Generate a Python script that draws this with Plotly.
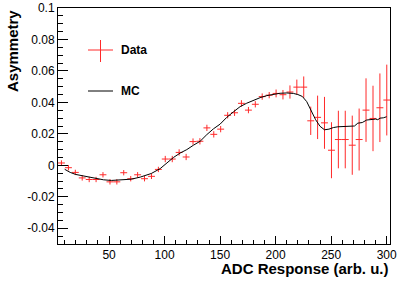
import plotly.graph_objects as go

# ---- data ----
x_data = [7.1, 13.4, 19.6, 25.8, 32.1, 38.3, 44.5, 50.8, 57.0, 63.2, 69.5, 75.7,
          81.9, 88.2, 94.4, 100.6, 106.9, 113.1, 119.4, 125.6, 131.8, 138.1, 144.3, 150.5,
          156.8, 163.0, 169.2, 175.5, 181.7, 187.9, 194.2, 200.4, 206.6, 212.9, 219.1, 225.3,
          231.6, 237.8, 244.0, 250.3, 256.5, 262.7, 269.0, 275.2, 281.4, 287.7, 293.9, 300.1]
y_data = [0.0015, -0.0015, -0.0045, -0.008, -0.009, -0.009, -0.006, -0.0105, -0.0105, -0.0047,
          -0.0085, -0.006, -0.0085, -0.007, -0.0026, 0.004, 0.004, 0.0082, 0.0053, 0.0151,
          0.0153, 0.0238, 0.0197, 0.023, 0.0318, 0.0334, 0.0394, 0.0351, 0.0388, 0.0437,
          0.0446, 0.0457, 0.0449, 0.0466, 0.0497, 0.0497, 0.0283, 0.0305, 0.027, 0.0096,
          0.0164, 0.0164, 0.0128, 0.0164, 0.0351, 0.0298, 0.0366, 0.0415]
y_err = [0.0017] * 15 + [0.002] * 16 + [0.0025, 0.003, 0.0042, 0.0048, 0.0068, 0.009, 0.0138,
          0.0165, 0.0178, 0.0183, 0.0183, 0.0188, 0.0197, 0.0202, 0.0208, 0.0218, 0.0225]
x_halfwidth = [3.11] * len(x_data)

x_mc = [10, 15, 20, 27, 35, 45, 52, 60, 70, 78, 88, 96, 102, 108, 114, 120, 126, 132, 138,
        144, 150, 156, 162, 168, 174, 180, 186, 192, 198, 204, 210, 216, 220, 224, 228, 232,
        236, 240, 244, 248, 252, 256, 260, 264, 268, 271, 274, 278, 282, 286, 290, 292, 294,
        297, 300]
y_mc = [-0.0025, -0.0045, -0.0058, -0.0068, -0.0082, -0.0092, -0.0096, -0.0094, -0.0088,
        -0.0075, -0.0052, -0.0021, 0.0017, 0.0050, 0.0078, 0.0100, 0.0128, 0.0153, 0.0195,
        0.0232, 0.0262, 0.0305, 0.0340, 0.0373, 0.0395, 0.0415, 0.0430, 0.0443, 0.0452,
        0.0458, 0.0460, 0.0457, 0.0450, 0.0438, 0.0405, 0.0345, 0.0290, 0.0248, 0.0226,
        0.0230, 0.0240, 0.0245, 0.0246, 0.0248, 0.0247, 0.0250, 0.0268, 0.0272, 0.0288,
        0.0290, 0.0294, 0.0290, 0.0300, 0.0302, 0.0309]

y_tickvals = [-0.04, -0.02, 0, 0.02, 0.04, 0.06, 0.08, 0.1]
y_ticktext = ["-0.04", "-0.02", "0", "0.02", "0.04", "0.06", "0.08", "0.1"]
x_tickvals = [50, 100, 150, 200, 250, 300]
x_ticktext = ["50", "100", "150", "200", "250", "300"]

RED = "#ff2a2a"
FONT = "Liberation Sans"

fig = go.Figure()
fig.add_trace(go.Scatter(
    x=x_data, y=y_data, mode="markers", name="Data",
    marker=dict(size=1, color=RED, opacity=0),
    error_y=dict(type="data", array=y_err, color=RED, thickness=1, width=0),
    error_x=dict(type="data", array=x_halfwidth, color=RED, thickness=1, width=0),
    showlegend=False,
))
fig.add_trace(go.Scatter(
    x=x_mc, y=y_mc, mode="lines", name="MC",
    line=dict(color="black", width=1), showlegend=False,
))

W, H = 415, 281
L, R, T, B = 58, 25, 8, 37
pw, ph = W - L - R, H - T - B

def px(xp):
    return (xp - L) / pw

def py(yp):
    return (H - B - yp) / ph

# custom legend (ROOT style)
fig.add_shape(type="line", xref="paper", yref="paper", x0=px(88), x1=px(113), y0=py(50), y1=py(50),
              line=dict(color=RED, width=1))
fig.add_shape(type="line", xref="paper", yref="paper", x0=px(100.5), x1=px(100.5), y0=py(40), y1=py(62),
              line=dict(color=RED, width=1))
fig.add_shape(type="line", xref="paper", yref="paper", x0=px(88), x1=px(113), y0=py(91), y1=py(91),
              line=dict(color="black", width=1))
fig.add_annotation(xref="paper", yref="paper", x=px(119), y=py(50), text="<b>Data</b>",
                   showarrow=False, xanchor="left", yanchor="middle",
                   font=dict(family=FONT, size=12, color="black"))
fig.add_annotation(xref="paper", yref="paper", x=px(119), y=py(91), text="<b>MC</b>",
                   showarrow=False, xanchor="left", yanchor="middle",
                   font=dict(family=FONT, size=12, color="black"))

# axis titles (ROOT aligns them to axis end)
fig.add_annotation(xref="paper", yref="paper", x=px(12), y=py(8), text="<b>Asymmetry</b>",
                   textangle=-90, showarrow=False, xanchor="center", yanchor="top",
                   font=dict(family=FONT, size=15, color="black"))
fig.add_annotation(xref="paper", yref="paper", x=px(391), y=py(268), text="<b>ADC Response (arb. u.)</b>",
                   showarrow=False, xanchor="right", yanchor="middle",
                   font=dict(family=FONT, size=15, color="black"))

axis_common = dict(showline=True, linecolor="black", linewidth=1, mirror=True, automargin=False,
                   showgrid=False, zeroline=False, ticks="inside", tickcolor="black",
                   tickwidth=1, tickfont=dict(family=FONT, size=12, color="black"))

fig.update_xaxes(range=[4, 303], tickmode="array", tickvals=x_tickvals, ticktext=x_ticktext,
                 ticklen=8, minor=dict(ticks="inside", dtick=10, tick0=0, ticklen=4,
                                       tickcolor="black", tickwidth=1),
                 **axis_common)
fig.update_yaxes(range=[-0.05, 0.1], tickmode="array", tickvals=y_tickvals, ticktext=y_ticktext,
                 ticklen=10, minor=dict(ticks="inside", dtick=0.005, tick0=0, ticklen=5,
                                        tickcolor="black", tickwidth=1),
                 **axis_common)
fig.update_xaxes(tickprefix="<b>", ticksuffix="</b>")
fig.update_yaxes(tickprefix="<b>", ticksuffix="</b>")

fig.update_layout(width=W, height=H, margin=dict(l=L, r=R, t=T, b=B, autoexpand=False),
                  paper_bgcolor="white", plot_bgcolor="white", showlegend=False)

fig.write_html("out.html", config={"displayModeBar": False},
               post_script="document.body.style.margin='0';document.body.style.padding='0';")
